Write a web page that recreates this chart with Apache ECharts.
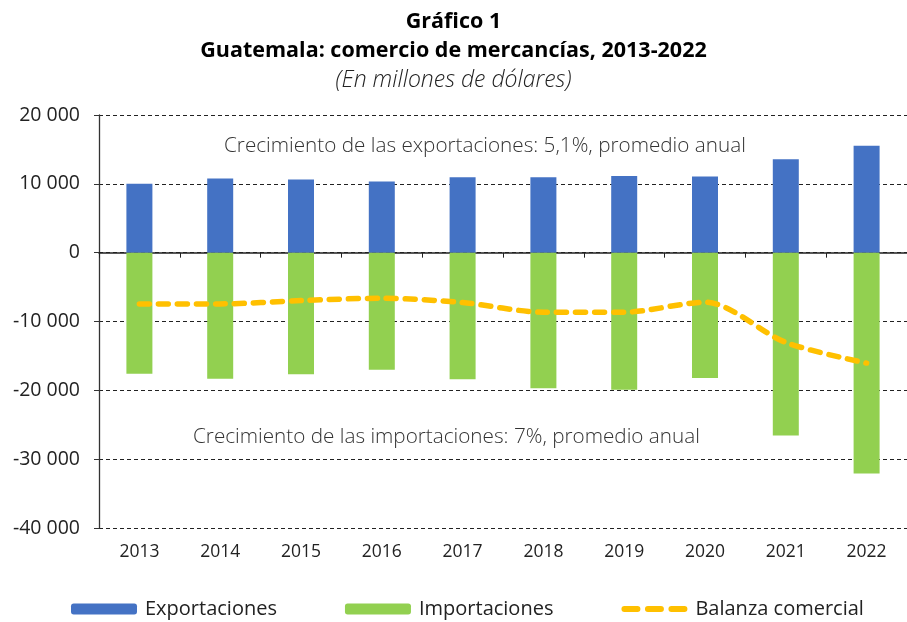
<!DOCTYPE html>
<html><head><meta charset="utf-8">
<script src="https://cdn.jsdelivr.net/npm/echarts@6/dist/echarts.min.js"></script>
<style>html,body{margin:0;padding:0;background:#fff}#c{width:907px;height:622px}</style>
</head><body><div id="c"></div>
<script>
const years = ['2013','2014','2015','2016','2017','2018','2019','2020','2021','2022'];
const exportaciones = [10000, 10770, 10625, 10340, 10960, 10960, 11150, 11060, 13560, 15530];
const importaciones = [-17580, -18310, -17680, -17000, -18400, -19710, -19900, -18210, -26570, -32080];
const balanza = [-7440, -7440, -6960, -6620, -7250, -8650, -8650, -7200, -13040, -16040];
const yTicks = {min: -40000, max: 20000, interval: 10000};

const FONT = 'Open Sans';
const dashIcon = 'path://M3,2.5H16A3,3 0 0 1 16,8.5H3A3,3 0 0 1 3,2.5Z' +
  'M26.5,2.5H39.5A3,3 0 0 1 39.5,8.5H26.5A3,3 0 0 1 26.5,2.5Z' +
  'M50,2.5H63A3,3 0 0 1 63,8.5H50A3,3 0 0 1 50,2.5Z' +
  'M33,0L33.01,0ZM33,11L33.01,11Z';
const chart = echarts.init(document.getElementById('c'), null, {renderer: 'canvas'});
chart.setOption({
  animation: false,
  textStyle: {fontFamily: FONT},
  title: {
    left: 'center', top: 2,
    text: '{a|Gráfico 1}\n{a|Guatemala: comercio de mercancías, 2013-2022}\n{b|(En millones de dólares)}',
    textStyle: {
      rich: {
        a: {fontFamily: FONT, fontWeight: 'bold', fontSize: 21.5, color: '#000', lineHeight: 29},
        b: {fontFamily: FONT, fontStyle: 'italic', fontWeight: 300, fontSize: 23, color: '#222', lineHeight: 30}
      }
    }
  },
  grid: {left: 99, top: 115, width: 811, height: 413, containLabel: false},
  legend: {
    bottom: 3, left: 71, padding: 0, itemWidth: 66, itemHeight: 11, itemGap: 68,
    textStyle: {fontFamily: FONT, fontSize: 20, color: '#222', padding: [0, 0, 0, 3]},
    data: ['Exportaciones', 'Importaciones', {name: 'Balanza comercial', icon: dashIcon, itemStyle: {color: '#FFC000'}}]
  },
  xAxis: [
    {type: 'category', data: years, position: 'bottom',
     axisLine: {onZero: true, lineStyle: {color: '#222', width: 1.5}},
     axisTick: {show: true, inside: false, length: 5, lineStyle: {color: '#222'}},
     axisLabel: {show: false}},
    {type: 'category', data: years, position: 'bottom',
     axisLine: {show: false, onZero: false}, axisTick: {show: false},
     axisLabel: {show: true, fontSize: 17.5, color: '#222', margin: 15, fontFamily: FONT}}
  ],
  yAxis: {
    type: 'value', min: yTicks.min, max: yTicks.max, interval: yTicks.interval,
    axisLine: {show: true, lineStyle: {color: '#333', width: 1.3}},
    axisTick: {show: true, length: 5, lineStyle: {color: '#333'}},
    axisLabel: {fontSize: 19.5, color: '#222', margin: 19, fontFamily: FONT,
      formatter: v => { const s = Math.abs(v).toString().replace(/\B(?=(\d{3})+(?!\d))/g, ' '); return (v < 0 ? '-' : '') + s; }},
    splitLine: {show: true, lineStyle: {color: '#222', type: [4, 3], width: 1}}
  },
  graphic: [
    {type: 'text', left: 224, top: 136, style: {text: 'Crecimiento de las exportaciones: 5,1%, promedio anual', fontFamily: FONT, fontSize: 20.7, fontWeight: 300, fill: '#333'}},
    {type: 'text', left: 193, top: 427, style: {text: 'Crecimiento de las importaciones: 7%, promedio anual', fontFamily: FONT, fontSize: 20.7, fontWeight: 300, fill: '#333'}}
  ],
  series: [
    {name: 'Exportaciones', type: 'bar', stack: 't', data: exportaciones, barWidth: 26, itemStyle: {color: '#4472C4'}},
    {name: 'Importaciones', type: 'bar', stack: 't', data: importaciones, barWidth: 26, itemStyle: {color: '#92D050'}},
    {name: 'Balanza comercial', type: 'line', data: balanza, smooth: 0.3, symbol: 'none', z: 5,
     itemStyle: {color: '#FFC000'},
     lineStyle: {color: '#FFC000', width: 5.5, type: [10, 9], cap: 'round'}}
  ]
});
</script></body></html>
